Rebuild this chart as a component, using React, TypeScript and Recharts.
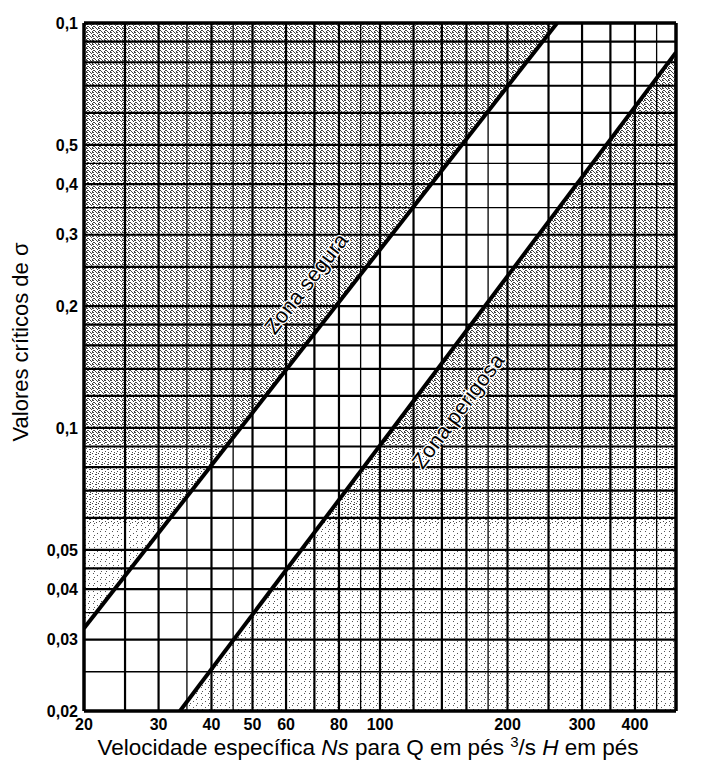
import { ComposedChart, Line, Area, XAxis, YAxis, ReferenceLine, ReferenceDot } from 'recharts';

const FONT = '"Liberation Sans", Arial, Helvetica, sans-serif';

// tick values and their printed labels (top label is printed as "0,1" on the original)
const xTicks = [20, 30, 40, 50, 60, 80, 100, 200, 300, 400];
const xTickLabels = ['20', '30', '40', '50', '60', '80', '100', '200', '300', '400'];
const yTicks = [1, 0.5, 0.4, 0.3, 0.2, 0.1, 0.05, 0.04, 0.03, 0.02];
const yTickLabels = ['0,1', '0,5', '0,4', '0,3', '0,2', '0,1', '0,05', '0,04', '0,03', '0,02'];

// log paper rulings
const xGrid = [25, 30, 35, 40, 45, 50, 60, 70, 80, 90, 100, 120, 140, 160, 180, 200, 250, 300, 350, 400, 450];
const xGridThin = [35, 45, 90, 180, 450];
const yGrid = [0.9, 0.8, 0.7, 0.6, 0.5, 0.45, 0.4, 0.35, 0.3, 0.25, 0.2, 0.18, 0.16, 0.14, 0.12, 0.1, 0.09, 0.08, 0.07, 0.06, 0.05, 0.045, 0.04, 0.035, 0.03, 0.025];
const yGridThin = [0.45, 0.35, 0.025, 0.035];

// critical sigma lines (Ns, sigma)
const safeLine = [
  { ns: 20, sigma: 0.032 },
  { ns: 262, sigma: 1 },
];
const dangerLine = [
  { ns: 33.7, sigma: 0.02 },
  { ns: 500, sigma: 0.846 },
];

const X_MIN = 20;
const X_MAX = 500;
const Y_MIN = 0.02;
const Y_MAX = 1;

// shaded zones, built from the lines and the chart frame
const upperZone = safeLine.map((p) => ({ ns: p.ns, band: [p.sigma, Y_MAX] }));
const lowerZone = dangerLine.map((p) => ({ ns: p.ns, band: [Y_MIN, p.sigma] }));

const zoneLabels = [
  { text: 'Zona segura', ns: 67, sigma: 0.227, angle: -52 },
  { text: 'Zona perigosa', ns: 153, sigma: 0.11, angle: -53 },
];

const tickStyle = { fill: '#000', fontSize: 16, fontWeight: 'bold', fontFamily: FONT };

export default function App() {
  return (
    <div style={{ width: 693, height: 762, background: '#fff' }}>
      <ComposedChart width={693} height={762} margin={{ top: 15, right: 25, bottom: 0, left: 0 }}>
        <defs>
          <pattern id="dense" width="6" height="4" patternUnits="userSpaceOnUse">
            <rect width="6" height="4" fill="#fff" />
            <rect x="0" y="0" width="2" height="1" fill="#444" />
            <rect x="4" y="0" width="1" height="1" fill="#444" />
            <rect x="5" y="1" width="1" height="1" fill="#444" />
            <rect x="1" y="2" width="2" height="1" fill="#444" />
            <rect x="0" y="3" width="1" height="1" fill="#444" />
            <rect x="3" y="3" width="1" height="1" fill="#444" />
          </pattern>
          <pattern id="medium" width="6" height="5" patternUnits="userSpaceOnUse">
            <rect width="6" height="5" fill="#fff" />
            <rect x="0" y="0" width="1" height="1" fill="#4a4a4a" />
            <rect x="3" y="1" width="2" height="1" fill="#4a4a4a" />
            <rect x="1" y="3" width="1" height="1" fill="#4a4a4a" />
            <rect x="4" y="4" width="1" height="1" fill="#4a4a4a" />
          </pattern>
          <pattern id="sparse" width="7" height="6" patternUnits="userSpaceOnUse">
            <rect width="7" height="6" fill="#fff" />
            <rect x="1" y="1" width="1" height="1" fill="#555" />
            <rect x="5" y="3" width="1" height="1" fill="#555" />
            <rect x="2" y="5" width="1" height="1" fill="#555" />
          </pattern>
          <pattern id="stipple" x="0" y="0" width="12" height="762" patternUnits="userSpaceOnUse">
            <rect x="0" y="0" width="12" height="435" fill="url(#dense)" />
            <rect x="0" y="435" width="12" height="80" fill="url(#medium)" />
            <rect x="0" y="515" width="12" height="247" fill="url(#sparse)" />
          </pattern>
        </defs>

        <XAxis
          type="number"
          dataKey="ns"
          scale="log"
          domain={[X_MIN, X_MAX]}
          allowDataOverflow
          ticks={xTicks}
          tickFormatter={(v: number) => xTickLabels[xTicks.indexOf(v)] ?? String(v)}
          interval={0}
          height={59}
          axisLine={false}
          tickLine={false}
          tickSize={0}
          tickMargin={8}
          tick={tickStyle}
          label={{
            content: () => (
              <text x={360} y={747} textAnchor="middle" fontSize={22.5} fontFamily={FONT} fill="#000">
                Velocidade específica <tspan fontStyle="italic">Ns</tspan> para Q em pés{' '}
                <tspan fontSize={15} dy={-8}>3</tspan>
                <tspan dy={8}>/s </tspan>
                <tspan fontStyle="italic">H</tspan> em pés
              </text>
            ),
          }}
        />
        <YAxis
          type="number"
          scale="log"
          domain={[Y_MIN, Y_MAX]}
          allowDataOverflow
          ticks={yTicks}
          tickFormatter={(v: number) => yTickLabels[yTicks.indexOf(v)] ?? String(v)}
          interval={0}
          width={76}
          axisLine={false}
          tickLine={false}
          tickSize={0}
          tickMargin={6}
          tick={tickStyle}
          label={{
            content: () => (
              <text
                x={12}
                y={334}
                transform="rotate(-90, 12, 334)"
                textAnchor="middle"
                dominantBaseline="central"
                fontSize={22}
                fontFamily={FONT}
                fill="#000"
              >
                Valores críticos de σ
              </text>
            ),
          }}
        />

        <Area
          data={upperZone}
          dataKey="band"
          type="linear"
          stroke="none"
          fill="url(#stipple)"
          fillOpacity={1}
          isAnimationActive={false}
        />
        <Area
          data={lowerZone}
          dataKey="band"
          type="linear"
          stroke="none"
          fill="url(#stipple)"
          fillOpacity={1}
          isAnimationActive={false}
        />

        {xGrid.map((v) => (
          <ReferenceLine
            key={`vx-${v}`}
            x={v}
            stroke="#000"
            strokeWidth={xGridThin.includes(v) ? 1.3 : 2.2}
          />
        ))}
        {yGrid.map((v) => (
          <ReferenceLine
            key={`hy-${v}`}
            y={v}
            stroke="#000"
            strokeWidth={yGridThin.includes(v) ? 1.3 : 2.2}
          />
        ))}
        <ReferenceLine x={X_MIN} stroke="#000" strokeWidth={3.5} />
        <ReferenceLine x={X_MAX} stroke="#000" strokeWidth={3.5} />
        <ReferenceLine y={Y_MIN} stroke="#000" strokeWidth={3.5} />
        <ReferenceLine y={Y_MAX} stroke="#000" strokeWidth={3.5} />

        <Line
          data={safeLine}
          dataKey="sigma"
          type="linear"
          stroke="#000"
          strokeWidth={4}
          dot={false}
          isAnimationActive={false}
        />
        <Line
          data={dangerLine}
          dataKey="sigma"
          type="linear"
          stroke="#000"
          strokeWidth={4}
          dot={false}
          isAnimationActive={false}
        />

        {zoneLabels.map((z) => (
          <ReferenceDot
            key={z.text}
            x={z.ns}
            y={z.sigma}
            r={0}
            shape={(p: any) => (
              <g>
                <text
                  x={p.cx}
                  y={p.cy}
                  transform={`rotate(${z.angle}, ${p.cx}, ${p.cy})`}
                  textAnchor="middle"
                  dominantBaseline="central"
                  fontSize={21.5}
                  fontFamily={FONT}
                  fill="#000"
                  stroke="#fff"
                  strokeWidth={2.5}
                  paintOrder="stroke"
                >
                  {z.text}
                </text>
              </g>
            )}
          />
        ))}
      </ComposedChart>
    </div>
  );
}
